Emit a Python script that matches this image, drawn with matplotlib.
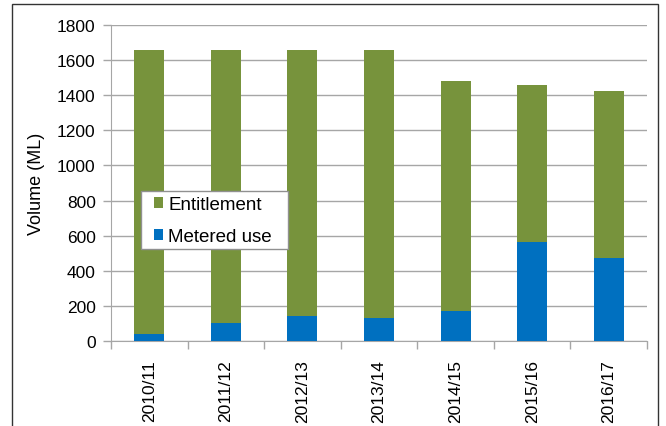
import numpy as np
import matplotlib.pyplot as plt
from matplotlib.patches import Rectangle

plt.rcParams['font.family'] = ['Liberation Sans', 'DejaVu Sans']

# ---------- data ----------
years = ['2010/11', '2011/12', '2012/13', '2013/14', '2014/15', '2015/16', '2016/17']
entitlement = [1660, 1660, 1660, 1660, 1482, 1460, 1425]
metered_use = [42, 103, 143, 133, 172, 562, 470]

green = '#77933C'
blue = '#0070C0'
grid_col = '#a6a6a6'

# ---------- figure ----------
fig = plt.figure(figsize=(6.66, 4.27), dpi=100)
ax = fig.add_axes([111 / 666, 1 - 342 / 427, 536 / 666, 316 / 427])

# outer border of the chart
fig.patches.append(Rectangle((12 / 666, -0.05), 646 / 666, 1.05 - 5 / 427,
                             transform=fig.transFigure, fill=False,
                             edgecolor='#333333', linewidth=1.0))

x = np.arange(len(years))
ax.bar(x, entitlement, width=0.39, color=green, label='Entitlement', zorder=2)
ax.bar(x, metered_use, width=0.39, color=blue, label='Metered use', zorder=3)

ax.set_xlim(-0.5, len(years) - 0.5)
ax.set_ylim(0, 1800)
ax.set_yticks(np.arange(0, 1801, 200))
ax.yaxis.grid(True, color=grid_col, linewidth=1.0, zorder=0)
ax.set_axisbelow(True)

# x ticks between categories, labels at category centres
ax.set_xticks(np.arange(-0.5, len(years)), minor=False)
ax.set_xticklabels([])
ax.set_xticks(x, minor=True)
ax.set_xticklabels(years, minor=True, rotation=90, fontsize=12.5)
ax.tick_params(axis='x', which='major', length=6, color=grid_col, width=1)
ax.tick_params(axis='x', which='minor', length=0, pad=13)
ax.tick_params(axis='y', length=6, color=grid_col, width=1, labelsize=12.5, pad=5)

for s in ['top', 'right']:
    ax.spines[s].set_visible(False)
for s in ['left', 'bottom']:
    ax.spines[s].set_color(grid_col)

ax.set_ylabel('Volume (ML)', fontsize=13)
ax.yaxis.set_label_coords(-66 / 536, 0.5)

# legend box drawn separately (more room on the right than matplotlib gives)
ax.add_patch(Rectangle((30 / 536, (342 - 250) / 316), 147 / 536, 58 / 316,
                       transform=ax.transAxes, facecolor='white',
                       edgecolor='#909090', linewidth=1.0, zorder=4))
leg = ax.legend(loc='upper left', bbox_to_anchor=(43 / 536, (342 - 197) / 316),
                fontsize=13.5, frameon=False, handlelength=0.5,
                handleheight=0.5, handletextpad=0.25, borderpad=0,
                labelspacing=0.8, borderaxespad=0)
leg.set_zorder(5)

fig.savefig('out.png', dpi=100)
